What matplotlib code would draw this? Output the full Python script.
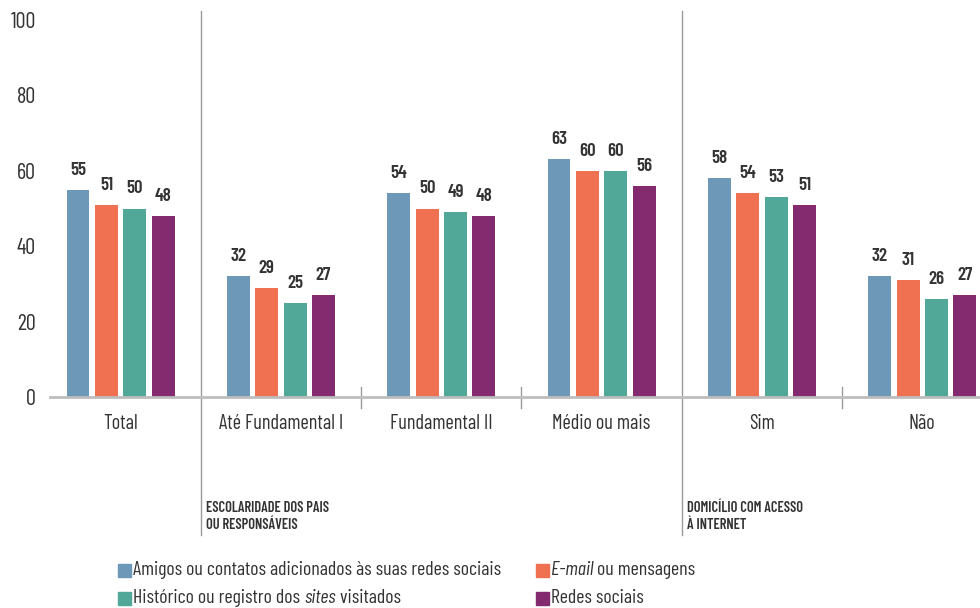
import matplotlib
matplotlib.use("Agg")
import matplotlib.pyplot as plt
from matplotlib.patches import Rectangle

plt.rcParams["font.family"] = ["Barlow Condensed", "DejaVu Sans"]

INK = "#333333"
GRID = "#bdbdbd"
SEP = "#9a9a9a"
COLORS = ["#6e98b8", "#f07052", "#52a898", "#842b70"]

categories = ["Total", "Até Fundamental I", "Fundamental II", "Médio ou mais", "Sim", "Não"]
amigos = [55, 32, 54, 63, 58, 32]
email = [51, 29, 50, 60, 54, 31]
historico = [50, 25, 49, 60, 53, 26]
redes = [48, 27, 48, 56, 51, 27]
series = [amigos, email, historico, redes]

W, H = 980, 608
fig = plt.figure(figsize=(W / 100, H / 100), dpi=100)
ax = fig.add_axes([50 / W, 1 - 397 / H, 930 / W, 377 / H])

bar_w = 0.143
step = 0.177
for k, (vals, col) in enumerate(zip(series, COLORS)):
    xs = [i + (k - 1.5) * step for i in range(len(categories))]
    bars = ax.bar(xs, vals, width=bar_w, color=col, zorder=2)
    for b, v in zip(bars, vals):
        ax.annotate(str(v), (b.get_x() + b.get_width() / 2, v), xytext=(0, 8),
                    textcoords="offset points", ha="center", va="bottom",
                    fontsize=13.5, fontweight="semibold", color=INK)

ax.set_xlim(-0.44, 5.36)
ax.set_ylim(0, 100)
ax.set_yticks([0, 20, 40, 60, 80, 100])
ax.set_xticks(range(len(categories)))
ax.set_xticklabels(categories, fontsize=14.6)
ax.tick_params(axis="both", length=0, colors=INK)
ax.tick_params(axis="y", labelsize=16, pad=10)
ax.tick_params(axis="x", pad=12)
for s in ("top", "right", "left"):
    ax.spines[s].set_visible(False)
ax.spines["bottom"].set_color(GRID)
ax.spines["bottom"].set_linewidth(2)

# group separators: full-height between blocks, short ticks inside a block
for xb in (0.5, 3.5):
    ax.plot([xb, xb], [102.5, -36.5], color=SEP, lw=1, clip_on=False, zorder=1)
for xb in (1.5, 2.5, 4.5):
    ax.plot([xb, xb], [2.6, -2.9], color=SEP, lw=1, clip_on=False, zorder=1)

for xb, txt in ((0.53, "ESCOLARIDADE DOS PAIS\nOU RESPONSÁVEIS"),
                (3.53, "DOMICÍLIO COM ACESSO\nÀ INTERNET")):
    ax.text(xb, -27.5, txt, ha="left", va="top", fontsize=10.4, fontweight="semibold",
            color=INK, linespacing=1.3, clip_on=False)

# legend, drawn piece by piece so parts of a label can be italic
fig.canvas.draw()
renderer = fig.canvas.get_renderer()


def legend_item(x, y, color, pieces):
    fig.patches.append(Rectangle((x / W, 1 - (y + 7) / H), 13 / W, 13 / H,
                                 transform=fig.transFigure, color=color))
    cx = x + 15
    for txt, style in pieces:
        t = fig.text(cx / W, 1 - y / H, txt, ha="left", va="center", fontsize=14.3,
                     color=INK, style=style)
        cx += t.get_window_extent(renderer).width


legend_item(118, 570, COLORS[0], [("Amigos ou contatos adicionados às suas redes sociais", "normal")])
legend_item(536, 570, COLORS[1], [("E-mail", "italic"), (" ou mensagens", "normal")])
legend_item(118, 598, COLORS[2], [("Histórico ou registro dos ", "normal"), ("sites", "italic"),
                                  (" visitados", "normal")])
legend_item(536, 598, COLORS[3], [("Redes sociais", "normal")])

fig.savefig("out.png", dpi=100)
